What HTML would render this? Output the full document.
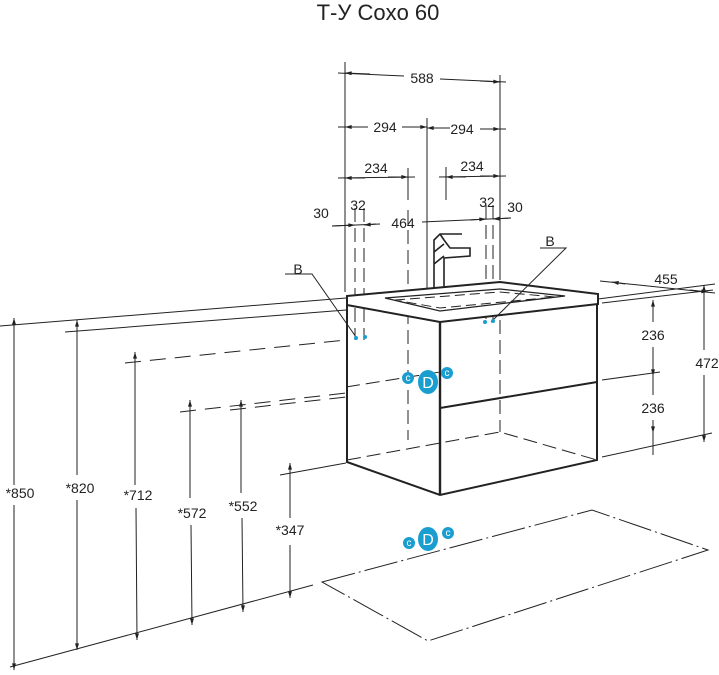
<!DOCTYPE html>
<html><head><meta charset="utf-8"><style>
body{margin:0;background:#fff}
svg{display:block}
text{font-family:"Liberation Sans","DejaVu Sans",sans-serif;fill:#222}
</style></head><body>
<svg width="719" height="675" viewBox="0 0 719 675" xmlns="http://www.w3.org/2000/svg">
<defs>
<marker id="a" viewBox="0 0 10 6" refX="10" refY="3" markerWidth="10" markerHeight="4" orient="auto-start-reverse" markerUnits="userSpaceOnUse"><path d="M0,0L10,3L0,6z" fill="#222"/></marker>
</defs>
<text x="378" y="20" font-size="22" text-anchor="middle">Т-У Coxo 60</text>

<g stroke="#222" stroke-width="1" fill="none">
<!-- extension verticals -->
<line x1="345" y1="62" x2="345" y2="292"/>
<line x1="500" y1="75" x2="500" y2="280"/>
<line x1="427" y1="118" x2="427" y2="320"/>
<line x1="408" y1="168" x2="408" y2="200"/>
<line x1="408" y1="210" x2="408" y2="440" stroke-dasharray="14,6"/>
<line x1="446" y1="167" x2="446" y2="200"/>
<line x1="355" y1="208" x2="355" y2="340" stroke-dasharray="14,6"/>
<line x1="364" y1="208" x2="364" y2="340" stroke-dasharray="14,6"/>
<line x1="486" y1="205" x2="486" y2="325" stroke-dasharray="14,6"/>
<line x1="493" y1="205" x2="493" y2="325" stroke-dasharray="14,6"/>

<!-- 588 -->
<line x1="338" y1="73" x2="404" y2="76" />
<line x1="345" y1="73" x2="370" y2="74" marker-start="url(#a)"/>
<line x1="440" y1="79" x2="506" y2="82"/>
<line x1="480" y1="81" x2="500" y2="82" marker-end="url(#a)"/>
<!-- 294 -->
<line x1="338" y1="127" x2="368" y2="127"/><line x1="345" y1="127" x2="365" y2="127" marker-start="url(#a)"/>
<line x1="402" y1="127" x2="427" y2="127" marker-end="url(#a)"/>
<line x1="427" y1="128" x2="450" y2="128" marker-start="url(#a)"/>
<line x1="480" y1="129" x2="506" y2="129"/><line x1="485" y1="129" x2="500" y2="129" marker-end="url(#a)"/>
<!-- 234 -->
<line x1="338" y1="178" x2="415" y2="177"/><line x1="345" y1="178" x2="365" y2="178" marker-start="url(#a)"/><line x1="388" y1="177" x2="408" y2="177" marker-end="url(#a)"/>
<line x1="439" y1="177" x2="506" y2="176"/><line x1="446" y1="177" x2="466" y2="177" marker-start="url(#a)"/><line x1="480" y1="176" x2="500" y2="176" marker-end="url(#a)"/>
<!-- 464 -->
<line x1="332" y1="226" x2="380" y2="224"/><line x1="332" y1="226" x2="355" y2="225" marker-end="url(#a)"/>
<line x1="364" y1="225" x2="376" y2="224" marker-start="url(#a)"/>
<line x1="422" y1="222" x2="511" y2="218"/><line x1="470" y1="220" x2="486" y2="219" marker-end="url(#a)"/>
<line x1="493" y1="219" x2="511" y2="218" marker-start="url(#a)"/>

<!-- faucet -->
<path d="M434,290 L434,240 L440,234 L462,234 M444,290 L444,258 L470,256 L470,248 L450,248 L444,240 L440,234 M434,252 L444,244 M434,264 L444,256" stroke-width="1.6"/>

<!-- wall lines -->
<line x1="0" y1="326" x2="346" y2="298"/>
<line x1="65" y1="332" x2="346" y2="310"/>
<line x1="598" y1="299" x2="715" y2="284"/>
<line x1="125" y1="363" x2="346" y2="340" stroke-dasharray="16,9"/>
<line x1="180" y1="412" x2="346" y2="393" stroke-dasharray="16,9"/>
<line x1="230" y1="410" x2="346" y2="397" stroke-dasharray="16,9"/>
<line x1="280" y1="475" x2="346" y2="463"/>
<line x1="10" y1="667" x2="313" y2="585"/>
<line x1="602" y1="380" x2="660" y2="372"/>
<line x1="602" y1="457" x2="712" y2="433"/>
<line x1="602" y1="303" x2="713" y2="290"/>

<!-- cabinet -->
<path d="M347,296 L500,282 L598,294 L598,304 L440,322 L347,305 Z" stroke-width="2" fill="#fff"/>
<path d="M385,298 L500,289 L565,296 L440,311 Z" stroke-width="1.3"/>
<path d="M395,300 L500,292 L555,297 L440,308 Z" stroke-dasharray="10,5"/>
<path d="M347,305 L347,462 L440,495 L597,460 L597,304" stroke-width="2"/>
<line x1="440" y1="322" x2="440" y2="495" stroke-width="2.4"/>
<line x1="440" y1="408" x2="597" y2="382" stroke-width="2"/>
<line x1="500" y1="320" x2="500" y2="432" stroke-dasharray="14,6"/>
<path d="M347,460 L500,432 L597,460" stroke-dasharray="14,6"/>
<line x1="346" y1="387" x2="440" y2="372" stroke-dasharray="14,6"/>

<!-- floor rectangle -->
<path d="M322,582 L592,510 L708,550 L428,641 Z" stroke-dasharray="34,4,2,4"/>

<!-- vertical dims -->
<line x1="14" y1="318" x2="14" y2="485" marker-start="url(#a)"/><line x1="14" y1="505" x2="14" y2="670" marker-end="url(#a)"/>
<line x1="77" y1="320" x2="77" y2="475" marker-start="url(#a)"/><line x1="77" y1="500" x2="77" y2="650" marker-end="url(#a)"/>
<line x1="135" y1="352" x2="135" y2="485" marker-start="url(#a)"/><line x1="136" y1="508" x2="137" y2="640" marker-end="url(#a)"/>
<line x1="190" y1="400" x2="190" y2="498" marker-start="url(#a)"/><line x1="191" y1="525" x2="192" y2="625" marker-end="url(#a)"/>
<line x1="241" y1="400" x2="241" y2="493" marker-start="url(#a)"/><line x1="242" y1="518" x2="243" y2="612" marker-end="url(#a)"/>
<line x1="290" y1="463" x2="290" y2="518" marker-start="url(#a)"/><line x1="290" y1="545" x2="290" y2="598" marker-end="url(#a)"/>
<line x1="704" y1="285" x2="704" y2="350" marker-start="url(#a)"/><line x1="704" y1="375" x2="704" y2="442" marker-end="url(#a)"/>
<line x1="653" y1="300" x2="653" y2="322"/><line x1="653" y1="300" x2="653" y2="303" marker-start="url(#a)"/>
<line x1="653" y1="347" x2="653" y2="395"/><line x1="653" y1="355" x2="653" y2="376" marker-end="url(#a)"/>
<line x1="653" y1="420" x2="653" y2="455"/><line x1="653" y1="420" x2="653" y2="433" marker-end="url(#a)"/>
<line x1="600" y1="281" x2="715" y2="293"/><line x1="612" y1="282" x2="625" y2="284" marker-start="url(#a)"/><line x1="690" y1="290" x2="708" y2="292" marker-end="url(#a)"/>

<!-- B leaders -->
<path d="M285,274 L312,274 L356,337"/>
<path d="M540,248 L566,248 L491,322"/>
</g>

<g fill="#1a9ed0">
<circle cx="356" cy="338" r="2"/><circle cx="365" cy="337" r="2"/>
<circle cx="485" cy="322" r="2"/><circle cx="493" cy="321" r="2"/>
<ellipse cx="428" cy="382" rx="10" ry="12"/><circle cx="408" cy="378" r="6"/><circle cx="447" cy="373" r="6"/>
<ellipse cx="428" cy="539" rx="10" ry="12"/><circle cx="409" cy="543" r="6"/><circle cx="448" cy="533" r="6"/>
</g>
<g font-size="10" fill="#fff" text-anchor="middle" style="fill:#fff">
<text x="428" y="388" font-size="16" style="fill:#fff">D</text><text x="408" y="381" style="fill:#fff">c</text><text x="447" y="376" style="fill:#fff">c</text>
<text x="428" y="545" font-size="16" style="fill:#fff">D</text><text x="409" y="546" style="fill:#fff">c</text><text x="448" y="536" style="fill:#fff">c</text>
</g>

<g font-size="14" text-anchor="middle">
<text x="422" y="83">588</text>
<text x="385" y="132">294</text><text x="462" y="134">294</text>
<text x="376" y="173">234</text><text x="472" y="171">234</text>
<text x="403" y="228">464</text>
<text x="321" y="218">30</text><text x="358" y="210">32</text><text x="487" y="207">32</text><text x="515" y="212">30</text>
<text x="298" y="274">B</text><text x="550" y="246">B</text>
<text x="666" y="284">455</text>
<text x="653" y="340">236</text><text x="653" y="413">236</text>
<text x="707" y="368">472</text>
<text x="20" y="498">*850</text>
<text x="80" y="493">*820</text>
<text x="138" y="500">*712</text>
<text x="192" y="518">*572</text>
<text x="243" y="511">*552</text>
<text x="290" y="535">*347</text>
</g>
</svg>
</body></html>
